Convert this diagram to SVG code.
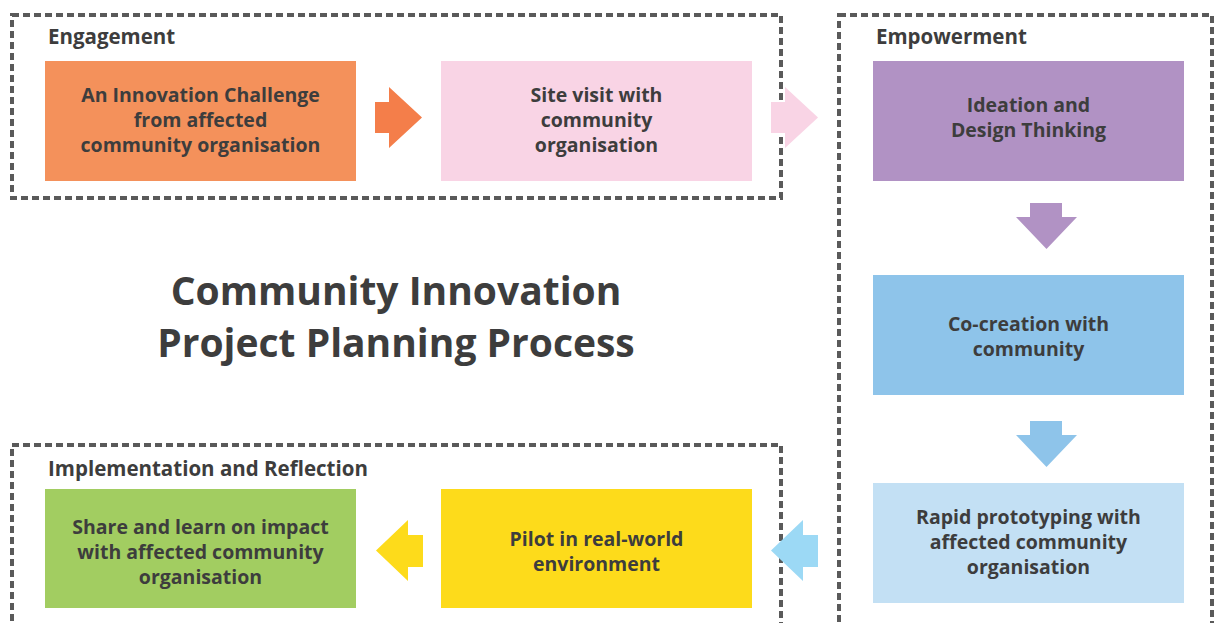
<svg xmlns="http://www.w3.org/2000/svg" width="1215" height="623" viewBox="0 0 1215 623">
<style>
.grp{fill:none;stroke:#5a5a5a;stroke-width:4;stroke-dasharray:7 4}
.gl{font-family:"Open Sans","Noto Sans",sans-serif;font-weight:700;font-size:20.5px;fill:#3d3d3d}
.nt{font-family:"Open Sans","Noto Sans",sans-serif;font-weight:700;font-size:19.5px;fill:#3d3d3d;text-anchor:middle}
.title{font-family:"Open Sans","Noto Sans",sans-serif;font-weight:700;font-size:39px;fill:#3d3d3d;text-anchor:middle}
</style>
<rect width="1215" height="623" fill="#ffffff"/>
<g id="groups">
<rect class="grp" x="12" y="15" width="769" height="183"/>
<rect class="grp" x="839" y="15" width="373" height="640"/>
<rect class="grp" x="12" y="445" width="769" height="210"/>
<text class="gl" x="48" y="44">Engagement</text>
<text class="gl" x="876" y="44">Empowerment</text>
<text class="gl" x="48" y="476">Implementation and Reflection</text>
</g>
<g id="title">
<text class="title" x="396" y="305">Community Innovation</text>
<text class="title" x="396" y="357">Project Planning Process</text>
</g>
<g id="connectors">
<polygon fill="#F47E4A" points="375,102 389,102 389,87 422,117.5 389,148 389,133 375,133"/>
<polygon fill="#F9D4E5" points="771,102 785,102 785,87 818,117.5 785,148 785,133 771,133"/>
<polygon fill="#B192C4" points="1030,203 1062,203 1062,217 1077,217 1046.5,249 1016,217 1030,217"/>
<polygon fill="#8EC4EA" points="1030,421 1062,421 1062,435 1077,435 1046.5,467 1016,435 1030,435"/>
<polygon fill="#9CD9F5" points="818,535 818,567 803,567 803,581 771,550.5 803,520 803,535"/>
<polygon fill="#FDDB1B" points="423,535 423,567 408,567 408,581 376,550.5 408,520 408,535"/>
</g>
<g id="n1">
<rect x="45" y="61" width="311" height="120" fill="#F4915B"/>
<text class="nt" x="200.5" y="102">An Innovation Challenge</text>
<text class="nt" x="200.5" y="127">from affected</text>
<text class="nt" x="200.5" y="152">community organisation</text>
</g>
<g id="n2">
<rect x="441" y="61" width="311" height="120" fill="#F9D4E5"/>
<text class="nt" x="596.5" y="102">Site visit with</text>
<text class="nt" x="596.5" y="127">community</text>
<text class="nt" x="596.5" y="152">organisation</text>
</g>
<g id="n3">
<rect x="873" y="61" width="311" height="120" fill="#B192C4"/>
<text class="nt" x="1028.5" y="112">Ideation and</text>
<text class="nt" x="1028.5" y="137">Design Thinking</text>
</g>
<g id="n4">
<rect x="873" y="275" width="311" height="120" fill="#8EC4EA"/>
<text class="nt" x="1028.5" y="331">Co-creation with</text>
<text class="nt" x="1028.5" y="356">community</text>
</g>
<g id="n5">
<rect x="873" y="483" width="311" height="120" fill="#C3E0F4"/>
<text class="nt" x="1028.5" y="524">Rapid prototyping with</text>
<text class="nt" x="1028.5" y="549">affected community</text>
<text class="nt" x="1028.5" y="574">organisation</text>
</g>
<g id="n6">
<rect x="441" y="489" width="311" height="119" fill="#FDDB1B"/>
<text class="nt" x="596.5" y="546">Pilot in real-world</text>
<text class="nt" x="596.5" y="571">environment</text>
</g>
<g id="n7">
<rect x="45" y="489" width="311" height="119" fill="#A2CD61"/>
<text class="nt" x="200.5" y="534">Share and learn on impact</text>
<text class="nt" x="200.5" y="559">with affected community</text>
<text class="nt" x="200.5" y="584">organisation</text>
</g>
</svg>
